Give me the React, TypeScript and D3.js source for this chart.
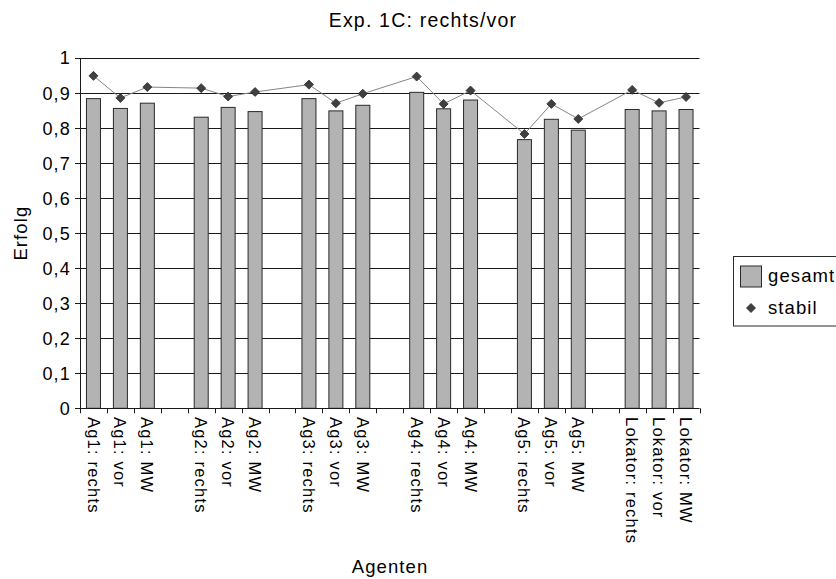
import React from "react";
import * as d3 from "d3";

const categories = [
  "Ag1: rechts", "Ag1: vor", "Ag1: MW", "",
  "Ag2: rechts", "Ag2: vor", "Ag2: MW", "",
  "Ag3: rechts", "Ag3: vor", "Ag3: MW", "",
  "Ag4: rechts", "Ag4: vor", "Ag4: MW", "",
  "Ag5: rechts", "Ag5: vor", "Ag5: MW", "",
  "Lokator: rechts", "Lokator: vor", "Lokator: MW",
];
const gesamt: (number | null)[] = [
  0.884, 0.856, 0.871, null,
  0.831, 0.859, 0.847, null,
  0.884, 0.849, 0.865, null,
  0.902, 0.855, 0.880, null,
  0.767, 0.825, 0.794, null,
  0.853, 0.849, 0.853,
];
const stabil: (number | null)[] = [
  0.949, 0.886, 0.917, null,
  0.914, 0.890, 0.903, null,
  0.924, 0.871, 0.898, null,
  0.947, 0.869, 0.907, null,
  0.783, 0.869, 0.826, null,
  0.909, 0.872, 0.889,
];
const yTicks = [0, 0.1, 0.2, 0.3, 0.4, 0.5, 0.6, 0.7, 0.8, 0.9, 1];
const title = "Exp. 1C: rechts/vor";
const xTitle = "Agenten";
const yTitle = "Erfolg";
const seriesNames = ["gesamt", "stabil"];

const W = 836, H = 579;
const left = 80, right = 699.5, top = 58, bottom = 408.3;
const FONT = "'Liberation Sans', Arial, Helvetica, sans-serif";

const locale = d3.formatLocale({ decimal: ",", thousands: ".", grouping: [3], currency: ["", "€"] });
const fmt = locale.format("~g");

export default function App() {
  const idx = categories.map((_, i) => String(i));
  const x = d3.scaleBand<string>().domain(idx).range([left, right]).paddingInner(0.48).paddingOuter(0.24);
  const xb = d3.scaleBand<string>().domain(idx).range([left, right]).padding(0);
  const y = d3.scaleLinear().domain([0, 1]).range([bottom, top]);

  const pts = stabil
    .map((v, i) => ({ v, i }))
    .filter((d) => d.v !== null) as { v: number; i: number }[];
  const line = d3
    .line<{ v: number; i: number }>()
    .x((d) => (xb(String(d.i)) as number) + xb.bandwidth() / 2)
    .y((d) => y(d.v));

  const diamond = (cx: number, cy: number, r: number) =>
    `M${cx},${cy - r}L${cx + r},${cy}L${cx},${cy + r}L${cx - r},${cy}Z`;

  const boundaries = d3.range(categories.length + 1).map((i) => left + i * xb.step());

  return (
    <svg width={W} height={H} style={{ position: "absolute", left: 0, top: 0, background: "#fff" }} fontFamily={FONT}>
      <rect x={0} y={0} width={W} height={H} fill="#fff" />
      {yTicks.filter((t) => t > 0).map((t) => (
        <line key={t} x1={left} x2={right} y1={Math.round(y(t)) + 0.5} y2={Math.round(y(t)) + 0.5} stroke="#1a1a1a" strokeWidth={1} />
      ))}
      {gesamt.map((v, i) =>
        v === null ? null : (
          <rect
            key={i}
            x={x(String(i))}
            y={y(v)}
            width={x.bandwidth()}
            height={bottom - y(v)}
            fill="#b3b3b3"
            stroke="#2a2a2a"
            strokeWidth={1}
          />
        )
      )}
      <line x1={left + 0.5} x2={left + 0.5} y1={top} y2={bottom} stroke="#1a1a1a" />
      {yTicks.map((t) => (
        <g key={t}>
          <line x1={left - 5} x2={left} y1={Math.round(y(t)) + 0.5} y2={Math.round(y(t)) + 0.5} stroke="#1a1a1a" />
          <text x={71} y={y(t)} dy="0.36em" textAnchor="end" fontSize={18} letterSpacing={1.2} fill="#000">
            {fmt(t)}
          </text>
        </g>
      ))}
      <line x1={left} x2={right} y1={Math.round(bottom) + 0.5} y2={Math.round(bottom) + 0.5} stroke="#1a1a1a" />
      {boundaries.map((bx, i) => (
        <line key={i} x1={Math.round(bx) + 0.5} x2={Math.round(bx) + 0.5} y1={bottom} y2={bottom + 5} stroke="#1a1a1a" />
      ))}
      {categories.map((c, i) =>
        c === "" ? null : (
          <text
            key={i}
            transform={`translate(${(xb(String(i)) as number) + xb.bandwidth() / 2},417) rotate(90)`}
            dy="0.36em"
            textAnchor="start"
            fontSize={16.5}
            letterSpacing={1.2}
            fill="#000"
          >
            {c}
          </text>
        )
      )}
      <path d={line(pts) || ""} fill="none" stroke="#858585" strokeWidth={1} />
      {pts.map((d) => (
        <path
          key={d.i}
          d={diamond((xb(String(d.i)) as number) + xb.bandwidth() / 2, y(d.v), 4.5)}
          fill="#404040"
          stroke="#2a2a2a"
          strokeWidth={0.8}
        />
      ))}
      <text x={423} y={27} textAnchor="middle" fontSize={19.5} letterSpacing={1.2} fill="#000">
        {title}
      </text>
      <text x={390} y={573} textAnchor="middle" fontSize={18.5} letterSpacing={1.1} fill="#000">
        {xTitle}
      </text>
      <text transform={`translate(27,${(top + bottom) / 2}) rotate(-90)`} textAnchor="middle" fontSize={18.5} letterSpacing={1.1} fill="#000">
        {yTitle}
      </text>
      <rect x={733.5} y={256.5} width={120} height={69.5} fill="#fff" stroke="#2a2a2a" strokeWidth={1} />
      <rect x={740.5} y={266} width={21} height={21} fill="#b3b3b3" stroke="#2a2a2a" strokeWidth={1} />
      <text x={768} y={282} fontSize={18.5} letterSpacing={1.1} fill="#000">
        {seriesNames[0]}
      </text>
      <path d={diamond(751, 308, 4.5)} fill="#404040" stroke="#2a2a2a" strokeWidth={0.8} />
      <text x={768} y={313.5} fontSize={18.5} letterSpacing={1.1} fill="#000">
        {seriesNames[1]}
      </text>
    </svg>
  );
}
